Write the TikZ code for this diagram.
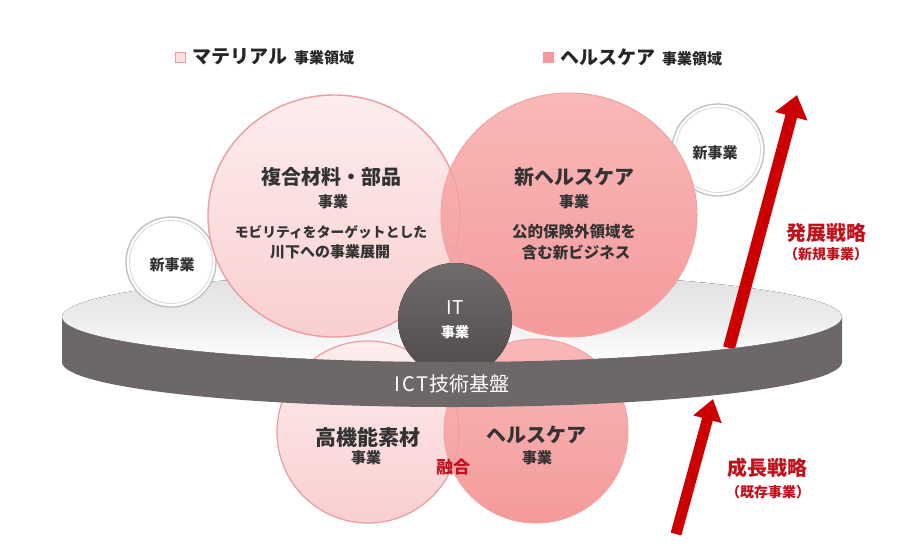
\documentclass[tikz,border=0pt]{standalone}
\usepackage{fontspec}
\setmainfont{Noto Sans CJK JP}
\usetikzlibrary{arrows.meta}
\definecolor{lpinkT}{HTML}{FDEDED}
\definecolor{lpinkB}{HTML}{F9CFD0}
\definecolor{lpinkL}{HTML}{EB9DA2}
\definecolor{dpinkT}{HTML}{F9B8B8}
\definecolor{dpinkB}{HTML}{F49A9B}
\definecolor{dpinkL}{HTML}{F3A5A5}
\definecolor{itgray}{HTML}{585252}
\definecolor{bandgray}{HTML}{6D6767}
\definecolor{txt}{HTML}{333333}
\definecolor{redtxt}{HTML}{C0121A}
\definecolor{arrowred}{HTML}{CC0000}
\tikzset{
  lbl/.style={inner sep=0pt, text=txt, font=\bfseries},
  wlbl/.style={inner sep=0pt, text=white},
  rlbl/.style={inner sep=0pt, text=redtxt, font=\bfseries},
  bigarrow/.style={draw=arrowred, line width=12pt, -{Triangle[length=22pt,width=32pt]}},
  smallarrow/.style={draw=arrowred, line width=11pt, -{Triangle[length=21pt,width=28pt]}},
  newbiz/.style={fill=white, draw=gray!50, line width=1.3pt},
  newbizin/.style={draw=gray!30, line width=0.8pt},
}
\newcommand{\fs}[1]{\fontsize{#1}{#1}\selectfont}
\begin{document}
\begin{tikzpicture}[x=1pt,y=-1pt]
\useasboundingbox (0,0) rectangle (909,546);
\fill[white] (0,0) rectangle (909,546);

% legend
\filldraw[fill=lpinkB!70, draw=lpinkL, line width=0.8pt] (175.5,52.5) rectangle (185,62);
\node[lbl, anchor=west, text=black!85] (legm) at (192,57) {\fs{19}マテリアル\hspace{7pt}\fs{15}事業領域};
\filldraw[fill=dpinkB, draw=dpinkB, line width=0.8pt] (543.5,52.5) rectangle (553,62);
\node[lbl, anchor=west, text=black!85] (legh) at (560,57) {\fs{19}ヘルスケア\hspace{7pt}\fs{15}事業領域};

% ring top face
\fill[top color=gray!24, bottom color=white, middle color=gray!15] (452,317) ellipse [x radius=390pt, y radius=45pt];

% small circles
\draw[newbiz] (171,262) circle [radius=45pt];
\draw[newbizin] (171,262) circle [radius=41.5pt];
\node[lbl] (nb1) at (172,265) {\fs{15}新事業};
\draw[newbiz] (718,150) circle [radius=46pt];
\draw[newbizin] (718,150) circle [radius=42.5pt];
\node[lbl] (nb2) at (715,153) {\fs{15}新事業};

% upper arrow
\coordinate (a1s) at (729,348);
\coordinate (a1e) at (797,95);
\draw[bigarrow] (a1s) -- (a1e);

% lower circles
\fill[top color=lpinkT, bottom color=lpinkB] (368,432) circle [radius=91pt];
\draw[lpinkL, line width=1.2pt] (368,432) circle [radius=91pt];
\fill[top color=dpinkT, bottom color=dpinkB] (536,431) circle [radius=92pt];
\draw[dpinkL, line width=1pt] (536,431) circle [radius=92pt];
\begin{scope}
\clip (536,431) circle [radius=92pt];
\draw[lpinkL!60!dpinkB, line width=1pt] (368,432) circle [radius=91pt];
\end{scope}

% upper circles
\fill[top color=lpinkT, bottom color=lpinkB] (334,216) ellipse [x radius=126pt, y radius=121pt];
\draw[lpinkL, line width=1.4pt] (334,216) ellipse [x radius=126pt, y radius=121pt];
\fill[top color=dpinkT, bottom color=dpinkB] (569,215) ellipse [x radius=128pt, y radius=122pt];
\draw[dpinkL, line width=1pt] (569,215) ellipse [x radius=128pt, y radius=122pt];
\begin{scope}
\clip (569,215) ellipse [x radius=128pt, y radius=122pt];
\draw[lpinkL!60!dpinkB, line width=1pt] (334,216) ellipse [x radius=126pt, y radius=121pt];
\end{scope}

% IT circle
\fill[top color=itgray!85!white, bottom color=itgray!90!black] (455,320) circle [radius=57pt];

% band
\fill[bandgray] (62,317) arc[start angle=180,end angle=360,x radius=390pt,y radius=45pt] -- (842,362) arc[start angle=0,end angle=-180,x radius=390pt,y radius=45pt] -- cycle;

% lower arrow
\coordinate (a2s) at (676,534);
\coordinate (a2e) at (713,399);
\draw[smallarrow] (a2s) -- (a2e);

% texts upper left
\node[lbl] (t1) at (331,177) {\fs{20}複合材料・部品};
\node[lbl] (t2) at (333,202) {\fs{15}事業};
\node[lbl] (t3) at (331,232) {\fs{13.8}モビリティをターゲットとした};
\node[lbl] (t4) at (330,252) {\fs{15}川下への事業展開};
% upper right
\node[lbl] (t5) at (574,177) {\fs{20}新ヘルスケア};
\node[lbl] (t6) at (574,202) {\fs{15}事業};
\node[lbl] (t7) at (574,232) {\fs{15.5}公的保険外領域を};
\node[lbl] (t8) at (576,252) {\fs{15.5}含む新ビジネス};
% IT
\node[wlbl] (it1) at (455,308) {\fs{19}I\kern1pt T};
\node[wlbl, font=\bfseries] (it2) at (455,332) {\fs{14}事業};
\node[wlbl] (ict) at (452,384) {\fs{20}I\kern2pt C\kern2pt T\kern1pt 技術基盤};
% lower
\node[lbl] (t9) at (368,437) {\fs{21}高機能素材};
\node[lbl] (t10) at (366,458) {\fs{15}事業};
\node[lbl] (t11) at (536,435) {\fs{20}ヘルスケア};
\node[lbl] (t12) at (537,458) {\fs{15}事業};
\node[rlbl] (fuse) at (453,467) {\fs{17}融合};
% strategy labels
\node[rlbl] (s1) at (826,233) {\fs{20}発展戦略};
\node[rlbl] (s2) at (826,254) {\fs{14}（新規事業）};
\node[rlbl] (s3) at (767,468) {\fs{20}成長戦略};
\node[rlbl] (s4) at (768,492) {\fs{14}（既存事業）};
\end{tikzpicture}
\end{document}
